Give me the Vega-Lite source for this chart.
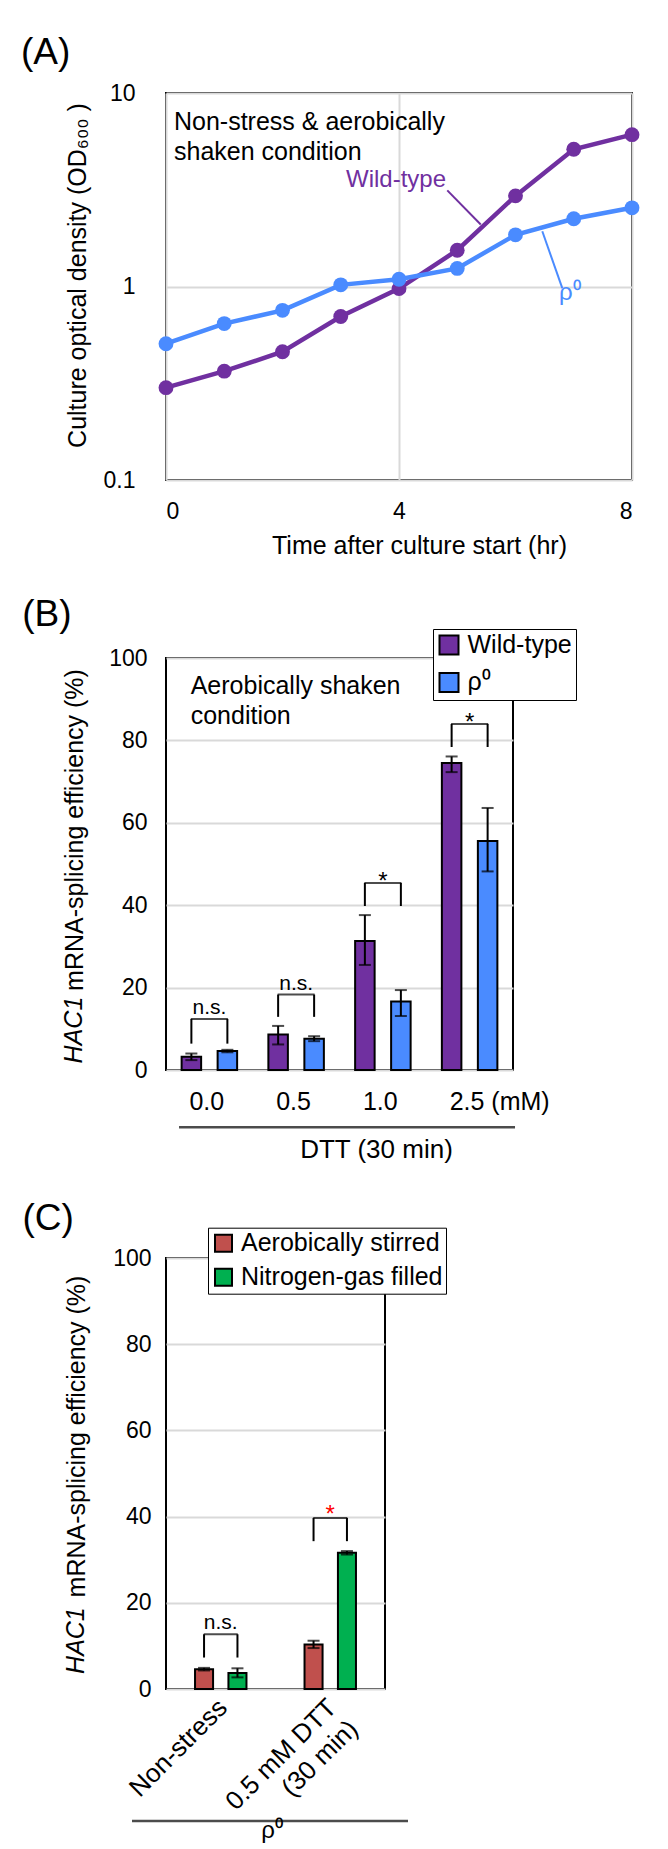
{
  "$schema": "https://vega.github.io/schema/vega-lite/v6.json",
  "background": "white",
  "padding": {"left": 20, "top": 33, "right": 5, "bottom": 0},
  "config": {
    "font": "Liberation Sans",
    "view": {"stroke": "black", "strokeWidth": 2},
    "axis": {"labelFontSize": 23, "labelColor": "black", "titleFontSize": 25, "titleColor": "black", "titleFontWeight": "normal", "ticks": false, "tickSize": 0, "domain": false, "gridColor": "#d9d9d9", "gridWidth": 2, "labelFont": "Liberation Sans", "titleFont": "Liberation Sans"},
    "title": {"fontSize": 37, "fontWeight": "normal", "anchor": "start", "frame": "bounds", "color": "black", "baseline": "alphabetic", "font": "Liberation Sans"},
    "legend": {"labelFont": "Liberation Sans"}
  },
  "datasets": {
    "growth": [
      {"strain": "Wild-type", "hour": 0, "od600": 0.30},
      {"strain": "Wild-type", "hour": 1, "od600": 0.365},
      {"strain": "Wild-type", "hour": 2, "od600": 0.46},
      {"strain": "Wild-type", "hour": 3, "od600": 0.70},
      {"strain": "Wild-type", "hour": 4, "od600": 0.975},
      {"strain": "Wild-type", "hour": 5, "od600": 1.54},
      {"strain": "Wild-type", "hour": 6, "od600": 2.94},
      {"strain": "Wild-type", "hour": 7, "od600": 5.12},
      {"strain": "Wild-type", "hour": 8, "od600": 6.09},
      {"strain": "ρ⁰", "hour": 0, "od600": 0.506},
      {"strain": "ρ⁰", "hour": 1, "od600": 0.643},
      {"strain": "ρ⁰", "hour": 2, "od600": 0.753},
      {"strain": "ρ⁰", "hour": 3, "od600": 1.02},
      {"strain": "ρ⁰", "hour": 4, "od600": 1.09},
      {"strain": "ρ⁰", "hour": 5, "od600": 1.24},
      {"strain": "ρ⁰", "hour": 6, "od600": 1.85},
      {"strain": "ρ⁰", "hour": 7, "od600": 2.24},
      {"strain": "ρ⁰", "hour": 8, "od600": 2.55}
    ],
    "growthLeaders": [
      {"strain": "Wild-type", "hour": 4.829, "hour2": 5.403, "od600": 3.14, "od600b": 2.09},
      {"strain": "ρ⁰", "hour": 6.46, "hour2": 6.803, "od600": 1.93, "od600b": 0.98}
    ],
    "growthLabels": [
      {"strain": "Wild-type", "hour": 3.09, "od600": 3.27},
      {"strain": "ρ⁰", "hour": 6.747, "od600": 0.851}
    ],
    "growthNotes": [
      {"text": "Non-stress & aerobically", "hour": 0.137, "od600": 6.44},
      {"text": "shaken condition", "hour": 0.137, "od600": 4.51}
    ],
    "splicingB": [
      {"dose": "0.0", "strain": "Wild-type", "pct": 3.2, "lo": 2.4, "hi": 4.0},
      {"dose": "0.0", "strain": "ρ⁰", "pct": 4.6, "lo": 4.3, "hi": 4.9},
      {"dose": "0.5", "strain": "Wild-type", "pct": 8.6, "lo": 6.2, "hi": 10.7},
      {"dose": "0.5", "strain": "ρ⁰", "pct": 7.6, "lo": 7.0, "hi": 8.2},
      {"dose": "1.0", "strain": "Wild-type", "pct": 31.3, "lo": 25.5, "hi": 37.6},
      {"dose": "1.0", "strain": "ρ⁰", "pct": 16.6, "lo": 13.1, "hi": 19.4},
      {"dose": "2.5", "strain": "Wild-type", "pct": 74.5, "lo": 72.3, "hi": 76.1},
      {"dose": "2.5", "strain": "ρ⁰", "pct": 55.6, "lo": 48.2, "hi": 63.6}
    ],
    "bracketLegsB": [
      {"dose": "0.0", "strain": "Wild-type", "low": 6.4, "top": 12.4},
      {"dose": "0.0", "strain": "ρ⁰", "low": 6.4, "top": 12.4},
      {"dose": "0.5", "strain": "Wild-type", "low": 12.9, "top": 18.3},
      {"dose": "0.5", "strain": "ρ⁰", "low": 12.9, "top": 18.3},
      {"dose": "1.0", "strain": "Wild-type", "low": 39.8, "top": 45.4},
      {"dose": "1.0", "strain": "ρ⁰", "low": 39.8, "top": 45.4},
      {"dose": "2.5", "strain": "Wild-type", "low": 78.4, "top": 84.0},
      {"dose": "2.5", "strain": "ρ⁰", "low": 78.4, "top": 84.0}
    ],
    "sigB": [
      {"dose": "0.0", "top": 12.4, "label": "n.s."},
      {"dose": "0.5", "top": 18.3, "label": "n.s."},
      {"dose": "1.0", "top": 45.4, "label": "*"},
      {"dose": "2.5", "top": 84.0, "label": "*"}
    ],
    "notesB": [
      {"dose": "0.0", "pct": 91.2, "text": "Aerobically shaken"},
      {"dose": "0.0", "pct": 84.0, "text": "condition"}
    ],
    "dttLineB": [{"dose": "0.5", "pct": -13.9}],
    "dttTextB": [{"dose": "1.0", "pct": -19.3, "text": "DTT (30 min)"}],
    "hacB": [{"dose": "0.0", "pct": 1.6, "text": "HAC1"}],
    "splicingC": [
      {"treatment": "Non-stress", "condition": "Aerobically stirred", "pct": 4.6, "lo": 4.3, "hi": 4.9},
      {"treatment": "Non-stress", "condition": "Nitrogen-gas filled", "pct": 3.7, "lo": 2.7, "hi": 4.8},
      {"treatment": "0.5 mM DTT (30 min)", "condition": "Aerobically stirred", "pct": 10.3, "lo": 9.5, "hi": 11.2},
      {"treatment": "0.5 mM DTT (30 min)", "condition": "Nitrogen-gas filled", "pct": 31.6, "lo": 31.2, "hi": 32.0}
    ],
    "bracketLegsC": [
      {"treatment": "Non-stress", "condition": "Aerobically stirred", "low": 7.3, "top": 12.7},
      {"treatment": "Non-stress", "condition": "Nitrogen-gas filled", "low": 7.3, "top": 12.7},
      {"treatment": "0.5 mM DTT (30 min)", "condition": "Aerobically stirred", "low": 34.3, "top": 39.7},
      {"treatment": "0.5 mM DTT (30 min)", "condition": "Nitrogen-gas filled", "low": 34.3, "top": 39.7}
    ],
    "sigC": [
      {"treatment": "Non-stress", "top": 12.7, "label": "n.s."},
      {"treatment": "0.5 mM DTT (30 min)", "top": 39.7, "label": "*"}
    ],
    "rhoLineC": [{"treatment": "Non-stress", "pct": -30.6}],
    "rhoTextC": [{"treatment": "Non-stress", "pct": -33.0, "text": "ρ⁰"}],
    "hacC": [{"treatment": "Non-stress", "pct": 3.5, "text": "HAC1"}]
  },
  "resolve": {"scale": {"x": "independent", "y": "independent", "color": "independent", "xOffset": "independent"}, "legend": {"color": "independent"}},
  "columns": 1,
  "align": "none",
  "spacing": 35,
  "concat": [
    {
      "title": {"text": "(A)", "dx": -44, "offset": 10},
      "width": 466,
      "height": 387,
      "layer": [
        {
          "data": {"name": "growth"},
          "mark": {"type": "line", "strokeWidth": 4.5, "point": {"filled": true, "size": 220, "opacity": 1}},
          "encoding": {
            "x": {"field": "hour", "type": "quantitative", "scale": {"domain": [0, 8], "nice": false}, "axis": {"values": [0, 4, 8], "format": "d", "title": "Time after culture start (hr)", "labelPadding": 20, "titlePadding": 10, "titleX": 253, "grid": true}},
            "y": {"field": "od600", "type": "quantitative", "scale": {"type": "log", "domain": [0.1, 10], "nice": false}, "axis": {"values": [0.1, 1, 10], "format": "~g", "title": "Culture optical density (OD₆₀₀ )", "labelPadding": 31, "titlePadding": 13, "titleY": 182, "grid": true}},
            "color": {"field": "strain", "type": "nominal", "scale": {"domain": ["Wild-type", "ρ⁰"], "range": ["#7030A0", "#4A8BFF"]}, "legend": null}
          }
        },
        {
          "data": {"name": "growthLeaders"},
          "mark": {"type": "rule", "strokeWidth": 2},
          "encoding": {
            "x": {"field": "hour", "type": "quantitative"},
            "x2": {"field": "hour2"},
            "y": {"field": "od600", "type": "quantitative"},
            "y2": {"field": "od600b"},
            "color": {"field": "strain", "type": "nominal", "legend": null}
          }
        },
        {
          "data": {"name": "growthLabels"},
          "mark": {"type": "text", "align": "left", "baseline": "alphabetic", "fontSize": 24},
          "encoding": {
            "x": {"field": "hour", "type": "quantitative"},
            "y": {"field": "od600", "type": "quantitative"},
            "text": {"field": "strain"},
            "color": {"field": "strain", "type": "nominal", "legend": null}
          }
        },
        {
          "data": {"name": "growthNotes"},
          "mark": {"type": "text", "align": "left", "baseline": "alphabetic", "fontSize": 25, "color": "black"},
          "encoding": {
            "x": {"field": "hour", "type": "quantitative"},
            "y": {"field": "od600", "type": "quantitative"},
            "text": {"field": "text"}
          }
        }
      ]
    },
    {
      "columns": 1,
      "align": "none",
      "spacing": 35,
      "resolve": {"scale": {"x": "independent", "y": "independent", "color": "independent", "xOffset": "independent"}, "legend": {"color": "independent"}},
      "concat": [
        {
          "title": {"text": "(B)", "dx": -40, "offset": -5},
          "width": 347,
          "height": 412,
          "layer": [
            {
              "data": {"name": "splicingB"},
              "mark": {"type": "bar", "stroke": "black", "strokeWidth": 2},
              "encoding": {
                "x": {"field": "dose", "type": "nominal", "sort": ["0.0", "0.5", "1.0", "2.5"], "scale": {"paddingInner": 0, "paddingOuter": 0}, "axis": {"title": null, "labelAngle": 0, "labelAlign": "left", "labelFontSize": 25, "labelOffset": -20, "labelPadding": 19, "labelExpr": "datum.label == '2.5' ? '2.5 (mM)' : datum.label", "grid": false}},
                "xOffset": {"field": "strain", "type": "nominal", "sort": ["Wild-type", "ρ⁰"], "scale": {"paddingInner": 0.458, "paddingOuter": 0.434}},
                "y": {"field": "pct", "type": "quantitative", "scale": {"domain": [0, 100], "nice": false}, "axis": {"values": [0, 20, 40, 60, 80, 100], "title": "mRNA-splicing efficiency (%)", "titleY": 171.5, "labelPadding": 19, "titlePadding": 21, "grid": true}},
                "color": {"field": "strain", "type": "nominal", "sort": ["Wild-type", "ρ⁰"], "scale": {"domain": ["Wild-type", "ρ⁰"], "range": ["#7030A0", "#4A8BFF"]}, "legend": {"orient": "none", "legendX": 267, "legendY": -29, "title": null, "symbolType": "square", "symbolSize": 361, "symbolStrokeColor": "black", "symbolStrokeWidth": 2, "labelFontSize": 25, "labelColor": "black", "labelLimit": 400, "padding": 3.5, "rowPadding": 10.4, "strokeColor": "black", "fillColor": "white", "labelOffset": 6}}
              }
            },
            {
              "data": {"name": "splicingB"},
              "mark": {"type": "rule", "strokeWidth": 2, "color": "black"},
              "encoding": {
                "x": {"field": "dose", "type": "nominal", "sort": ["0.0", "0.5", "1.0", "2.5"]},
                "xOffset": {"field": "strain", "type": "nominal", "sort": ["Wild-type", "ρ⁰"]},
                "y": {"field": "lo", "type": "quantitative"},
                "y2": {"field": "hi"}
              }
            },
            {
              "data": {"name": "splicingB"},
              "mark": {"type": "tick", "orient": "horizontal", "size": 12, "thickness": 2, "color": "black"},
              "encoding": {
                "x": {"field": "dose", "type": "nominal", "sort": ["0.0", "0.5", "1.0", "2.5"]},
                "xOffset": {"field": "strain", "type": "nominal", "sort": ["Wild-type", "ρ⁰"]},
                "y": {"field": "lo", "type": "quantitative"}
              }
            },
            {
              "data": {"name": "splicingB"},
              "mark": {"type": "tick", "orient": "horizontal", "size": 12, "thickness": 2, "color": "black"},
              "encoding": {
                "x": {"field": "dose", "type": "nominal", "sort": ["0.0", "0.5", "1.0", "2.5"]},
                "xOffset": {"field": "strain", "type": "nominal", "sort": ["Wild-type", "ρ⁰"]},
                "y": {"field": "hi", "type": "quantitative"}
              }
            },
            {
              "data": {"name": "bracketLegsB"},
              "mark": {"type": "rule", "strokeWidth": 2, "color": "black"},
              "encoding": {
                "x": {"field": "dose", "type": "nominal", "sort": ["0.0", "0.5", "1.0", "2.5"]},
                "xOffset": {"field": "strain", "type": "nominal", "sort": ["Wild-type", "ρ⁰"]},
                "y": {"field": "low", "type": "quantitative"},
                "y2": {"field": "top"}
              }
            },
            {
              "data": {"name": "sigB"},
              "mark": {"type": "tick", "orient": "horizontal", "size": 37, "thickness": 2, "color": "black"},
              "encoding": {
                "x": {"field": "dose", "type": "nominal", "sort": ["0.0", "0.5", "1.0", "2.5"]},
                "y": {"field": "top", "type": "quantitative"}
              }
            },
            {
              "data": {"name": "sigB"},
              "transform": [{"filter": "datum.label == 'n.s.'"}],
              "mark": {"type": "text", "baseline": "alphabetic", "align": "center", "fontSize": 21, "dy": -5, "color": "black"},
              "encoding": {
                "x": {"field": "dose", "type": "nominal", "sort": ["0.0", "0.5", "1.0", "2.5"]},
                "y": {"field": "top", "type": "quantitative"},
                "text": {"field": "label"}
              }
            },
            {
              "data": {"name": "sigB"},
              "transform": [{"filter": "datum.label == '*'"}],
              "mark": {"type": "text", "baseline": "alphabetic", "align": "center", "fontSize": 24, "dy": 6, "color": "black"},
              "encoding": {
                "x": {"field": "dose", "type": "nominal", "sort": ["0.0", "0.5", "1.0", "2.5"]},
                "y": {"field": "top", "type": "quantitative"},
                "text": {"field": "label"}
              }
            },
            {
              "data": {"name": "notesB"},
              "mark": {"type": "text", "baseline": "alphabetic", "align": "left", "fontSize": 25, "dx": -18.7, "color": "black"},
              "encoding": {
                "x": {"field": "dose", "type": "nominal", "sort": ["0.0", "0.5", "1.0", "2.5"]},
                "y": {"field": "pct", "type": "quantitative"},
                "text": {"field": "text"}
              }
            },
            {
              "data": {"name": "dttLineB"},
              "mark": {"type": "tick", "orient": "horizontal", "size": 336, "thickness": 2.5, "color": "black", "xOffset": 50.9},
              "encoding": {
                "x": {"field": "dose", "type": "nominal", "sort": ["0.0", "0.5", "1.0", "2.5"]},
                "y": {"field": "pct", "type": "quantitative"}
              }
            },
            {
              "data": {"name": "dttTextB"},
              "mark": {"type": "text", "baseline": "middle", "align": "center", "fontSize": 26, "dx": -6.4, "color": "black"},
              "encoding": {
                "x": {"field": "dose", "type": "nominal", "sort": ["0.0", "0.5", "1.0", "2.5"]},
                "y": {"field": "pct", "type": "quantitative"},
                "text": {"field": "text"}
              }
            },
            {
              "data": {"name": "hacB"},
              "mark": {"type": "text", "baseline": "alphabetic", "align": "left", "angle": 270, "fontSize": 25, "fontStyle": "italic", "dy": -127.1, "color": "black"},
              "encoding": {
                "x": {"field": "dose", "type": "nominal", "sort": ["0.0", "0.5", "1.0", "2.5"]},
                "y": {"field": "pct", "type": "quantitative"},
                "text": {"field": "text"}
              }
            }
          ]
        },
        {
          "title": {"text": "(C)", "dx": -42, "offset": -11},
          "width": 219,
          "height": 431,
          "layer": [
            {
              "data": {"name": "splicingC"},
              "mark": {"type": "bar", "stroke": "black", "strokeWidth": 2},
              "encoding": {
                "x": {"field": "treatment", "type": "nominal", "sort": ["Non-stress", "0.5 mM DTT (30 min)"], "scale": {"paddingInner": 0, "paddingOuter": 0}, "axis": {"title": null, "labelAngle": -45, "labelAlign": "right", "labelBaseline": "top", "labelPadding": 5, "labelOffset": -7, "labelFontSize": 26, "labelLineHeight": 30, "labelLimit": 400, "labelExpr": "datum.label == '0.5 mM DTT (30 min)' ? ['0.5 mM DTT', '(30 min)'] : datum.label", "grid": false}},
                "xOffset": {"field": "condition", "type": "nominal", "sort": ["Aerobically stirred", "Nitrogen-gas filled"], "scale": {"paddingInner": 0.46, "paddingOuter": 0.869}},
                "y": {"field": "pct", "type": "quantitative", "scale": {"domain": [0, 100], "nice": false}, "axis": {"values": [0, 20, 40, 60, 80, 100], "title": "mRNA-splicing efficiency (%)", "titleY": 178, "labelPadding": 15, "titlePadding": 23, "grid": true}},
                "color": {"field": "condition", "type": "nominal", "sort": ["Aerobically stirred", "Nitrogen-gas filled"], "scale": {"domain": ["Aerobically stirred", "Nitrogen-gas filled"], "range": ["#C0504D", "#00B050"]}, "legend": {"orient": "none", "legendX": 42, "legendY": -30.3, "title": null, "symbolType": "square", "symbolSize": 289, "symbolStrokeColor": "black", "symbolStrokeWidth": 2, "labelFontSize": 25, "labelColor": "black", "labelLimit": 400, "padding": 3, "rowPadding": 8, "strokeColor": "black", "fillColor": "white", "labelOffset": 5}}
              }
            },
            {
              "data": {"name": "splicingC"},
              "mark": {"type": "rule", "strokeWidth": 2, "color": "black"},
              "encoding": {
                "x": {"field": "treatment", "type": "nominal", "sort": ["Non-stress", "0.5 mM DTT (30 min)"]},
                "xOffset": {"field": "condition", "type": "nominal", "sort": ["Aerobically stirred", "Nitrogen-gas filled"]},
                "y": {"field": "lo", "type": "quantitative"},
                "y2": {"field": "hi"}
              }
            },
            {
              "data": {"name": "splicingC"},
              "mark": {"type": "tick", "orient": "horizontal", "size": 12, "thickness": 2, "color": "black"},
              "encoding": {
                "x": {"field": "treatment", "type": "nominal", "sort": ["Non-stress", "0.5 mM DTT (30 min)"]},
                "xOffset": {"field": "condition", "type": "nominal", "sort": ["Aerobically stirred", "Nitrogen-gas filled"]},
                "y": {"field": "lo", "type": "quantitative"}
              }
            },
            {
              "data": {"name": "splicingC"},
              "mark": {"type": "tick", "orient": "horizontal", "size": 12, "thickness": 2, "color": "black"},
              "encoding": {
                "x": {"field": "treatment", "type": "nominal", "sort": ["Non-stress", "0.5 mM DTT (30 min)"]},
                "xOffset": {"field": "condition", "type": "nominal", "sort": ["Aerobically stirred", "Nitrogen-gas filled"]},
                "y": {"field": "hi", "type": "quantitative"}
              }
            },
            {
              "data": {"name": "bracketLegsC"},
              "mark": {"type": "rule", "strokeWidth": 2, "color": "black"},
              "encoding": {
                "x": {"field": "treatment", "type": "nominal", "sort": ["Non-stress", "0.5 mM DTT (30 min)"]},
                "xOffset": {"field": "condition", "type": "nominal", "sort": ["Aerobically stirred", "Nitrogen-gas filled"]},
                "y": {"field": "low", "type": "quantitative"},
                "y2": {"field": "top"}
              }
            },
            {
              "data": {"name": "sigC"},
              "mark": {"type": "tick", "orient": "horizontal", "size": 34, "thickness": 2, "color": "black"},
              "encoding": {
                "x": {"field": "treatment", "type": "nominal", "sort": ["Non-stress", "0.5 mM DTT (30 min)"]},
                "y": {"field": "top", "type": "quantitative"}
              }
            },
            {
              "data": {"name": "sigC"},
              "transform": [{"filter": "datum.label == 'n.s.'"}],
              "mark": {"type": "text", "baseline": "alphabetic", "align": "center", "fontSize": 21, "dy": -5, "color": "black"},
              "encoding": {
                "x": {"field": "treatment", "type": "nominal", "sort": ["Non-stress", "0.5 mM DTT (30 min)"]},
                "y": {"field": "top", "type": "quantitative"},
                "text": {"field": "label"}
              }
            },
            {
              "data": {"name": "sigC"},
              "transform": [{"filter": "datum.label == '*'"}],
              "mark": {"type": "text", "baseline": "alphabetic", "align": "center", "fontSize": 24, "dy": 4, "color": "#FF0000"},
              "encoding": {
                "x": {"field": "treatment", "type": "nominal", "sort": ["Non-stress", "0.5 mM DTT (30 min)"]},
                "y": {"field": "top", "type": "quantitative"},
                "text": {"field": "label"}
              }
            },
            {
              "data": {"name": "rhoLineC"},
              "mark": {"type": "tick", "orient": "horizontal", "size": 276, "thickness": 2.5, "color": "black", "xOffset": 49.25},
              "encoding": {
                "x": {"field": "treatment", "type": "nominal", "sort": ["Non-stress", "0.5 mM DTT (30 min)"]},
                "y": {"field": "pct", "type": "quantitative"}
              }
            },
            {
              "data": {"name": "rhoTextC"},
              "mark": {"type": "text", "baseline": "middle", "align": "center", "fontSize": 24, "dx": 51.25, "color": "black"},
              "encoding": {
                "x": {"field": "treatment", "type": "nominal", "sort": ["Non-stress", "0.5 mM DTT (30 min)"]},
                "y": {"field": "pct", "type": "quantitative"},
                "text": {"field": "text"}
              }
            },
            {
              "data": {"name": "hacC"},
              "mark": {"type": "text", "baseline": "alphabetic", "align": "left", "angle": 270, "fontSize": 25, "fontStyle": "italic", "dy": -136.35, "color": "black"},
              "encoding": {
                "x": {"field": "treatment", "type": "nominal", "sort": ["Non-stress", "0.5 mM DTT (30 min)"]},
                "y": {"field": "pct", "type": "quantitative"},
                "text": {"field": "text"}
              }
            }
          ]
        }
      ]
    }
  ]
}
